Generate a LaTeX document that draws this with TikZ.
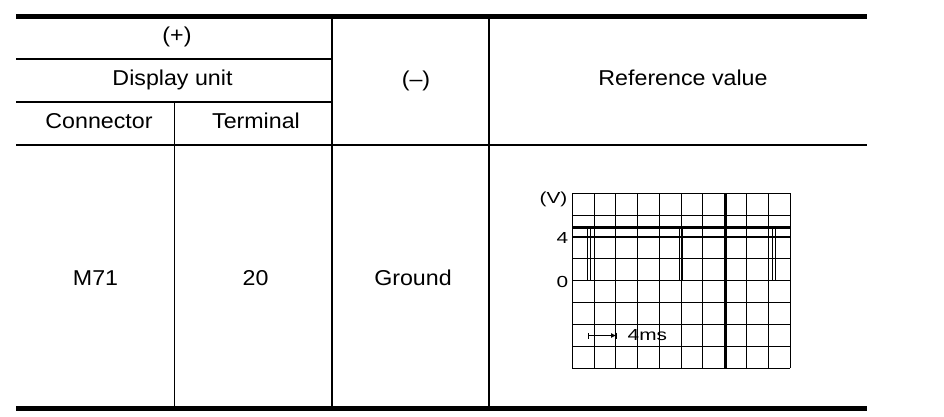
\documentclass[tikz,border=0pt]{standalone}
\usepackage{fontspec}
\setmainfont{Liberation Sans}
\newfontfamily\cellfont[FakeStretch=1.08]{Liberation Sans}
\newfontfamily\scopefont[FakeStretch=1.3]{Liberation Sans}
\usetikzlibrary{arrows.meta}
\tikzset{%
  every cell/.style={
    font=\cellfont\fontsize{21.5}{25}\selectfont,
    inner sep=0pt
  },
  scope label/.style={
    font=\scopefont\fontsize{16}{19}\selectfont,
    inner sep=0pt
  },
}

\begin{document}
\begin{tikzpicture}[x=1pt,y=-1pt,>=latex]
      \tikzstyle{rule}=[line width=5pt]
      \tikzstyle{sep}=[line width=1.5pt]
      \tikzstyle{gridline}=[line width=0.9pt]

      \useasboundingbox (0,0) rectangle (944,416);

      % table frame
      \draw[rule] (16,16.5) -- (867,16.5);
      \draw[rule] (16,408.5) -- (867,408.5);
      \draw[sep] (16,59) -- (332,59);
      \draw[sep] (16,102) -- (332,102);
      \draw[sep] (16,145) -- (867,145);
      \draw[line width=1pt] (174.5,102) -- (174.5,406);
      \draw[line width=2pt] (332,19) -- (332,406);
      \draw[line width=2pt] (489,19) -- (489,406);

      % header
      \node[every cell] (plus) at (177,36.7) {(+)};
      \node[every cell,anchor=base] (unit) at (172.5,85) {Display unit};
      \node[every cell,anchor=base] (conn) at (99,128) {Connector};
      \node[every cell,anchor=base] (term) at (256,128) {Terminal};
      \node[every cell] (minus) at (416,81) {(–)};
      \node[every cell,anchor=base] (ref) at (683,85) {Reference value};

      % data row
      \node[every cell,anchor=base] (m71) at (95.5,285) {M71};
      \node[every cell,anchor=base] (t20) at (255.5,285) {20};
      \node[every cell,anchor=base] (gnd) at (413,285) {Ground};

      % scope grid
      \foreach \i in {0,...,10}
        \draw[gridline] (572.3+21.77*\i,193.3) -- (572.3+21.77*\i,368.3);
      \foreach \j in {0,...,8}
        \draw[gridline] (572.3,193.3+21.875*\j) -- (790,193.3+21.875*\j);
      \draw[line width=2pt] (726,193.3) -- (726,368.3);
      \draw[line width=2pt] (572.3,236.8) -- (790,236.8);

      \node[scope label,anchor=east] (volt) at (567.5,199.5) {(V)};
      \node[scope label,anchor=east] (four) at (568.5,238.3) {4};
      \node[scope label,anchor=east] (zero) at (568.5,281.7) {0};

      % signal
      \draw[line width=2.5pt] (572.3,227.5) -- (790,227.5);
      \foreach \p in {587.5,679,772.5}
        \draw[line width=1pt] (\p,227.5) -- (\p,280.5) -- (\p+3.2,280.5) -- (\p+3.2,227.5);

      \coordinate (tstart) at (588,335.5);
      \coordinate (tend) at (617,335.5);
      \draw[line width=0.9pt,{Bar[width=6pt]}-{Latex[length=5pt,width=5pt]Bar[width=6pt]}] (tstart) -- (tend);
      \node[scope label,anchor=west] (ms) at (627.5,335.5) {4ms};
\end{tikzpicture}
\end{document}
